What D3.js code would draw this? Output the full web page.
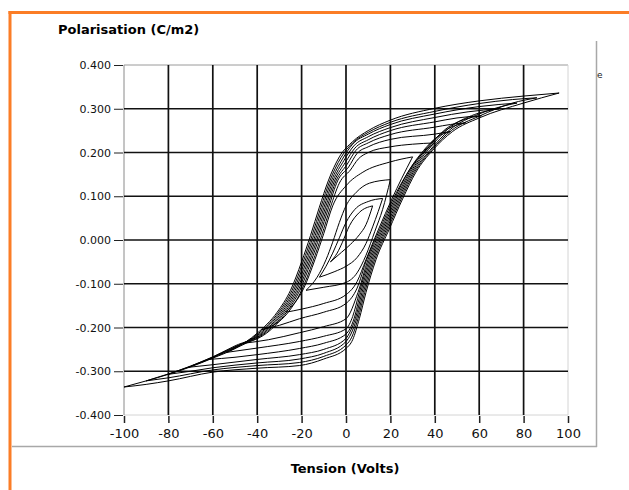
<!DOCTYPE html>
<html>
<head>
<meta charset="utf-8">
<script src="https://cdn.jsdelivr.net/npm/d3@7"></script>
<style>
  body { margin: 0; background: #fff; }
  svg { display: block; font-family: "DejaVu Sans", Verdana, sans-serif; }
</style>
</head>
<body>
<svg id="chart" width="629" height="490"></svg>
<script>

// axis ticks
const xTicks = [-100, -80, -60, -40, -20, 0, 20, 40, 60, 80, 100] ;
const xTickLabels = ["-100", "-80", "-60", "-40", "-20", "0", "20", "40", "60", "80", "100"] ;
const yTicks = [-0.4, -0.3, -0.2, -0.1, 0, 0.1, 0.2, 0.3, 0.4] ;
const yTickLabels = ["-0.400", "-0.300", "-0.200", "-0.100", "0.000", "0.100", "0.200", "0.300", "0.400"] ;

// hysteresis loops, [tension V, polarisation C/m2]
// "up" = descending branch, "lo" = ascending branch (both listed by rising V)
const loopA_up = [[-7,-0.05],[-4,-0.03],[-1.6,-0.005],[1.6,0.033],[6,0.063],[12,0.078]] ;
const loopA_lo = [[-7,-0.05],[-2,-0.028],[2,-0.01],[6,0.012],[9,0.035],[12,0.078]] ;

const loopA2_up = [[-12,-0.085],[-9,-0.06],[-6,-0.03],[-3,0.005],[0,0.04],[4,0.07],[10,0.088],[16.5,0.095]] ;
const loopA2_lo = [[-12,-0.085],[-5,-0.072],[0,-0.06],[5,-0.04],[9,-0.008],[12,0.03],[14.5,0.065],[16.5,0.095]] ;

const loopB_up = [[-18,-0.115],[-13,-0.085],[-9,-0.045],[-6,-0.005],[-3,0.04],[0,0.078],[4.6,0.109],[10.6,0.13],[20,0.138]] ;
const loopB_lo = [[-18,-0.115],[-10,-0.108],[0,-0.097],[5,-0.075],[9,-0.035],[13,0.02],[16.5,0.07],[20,0.138]] ;

const loopC_up = [[-27,-0.165],[-19,-0.11],[-14,-0.045],[-10,0.015],[-6,0.078],[0,0.124],[7.6,0.155],[19.6,0.178],[30,0.19]] ;
const loopC_lo = [[-27,-0.165],[-20,-0.158],[-10,-0.145],[0,-0.125],[5,-0.095],[9,-0.045],[14.7,0.025],[20.7,0.094],[25,0.14],[30,0.19]] ;

const loopD_up = [[-38,-0.205],[-26,-0.165],[-20,-0.115],[-15,-0.05],[-11,0.01],[-7,0.075],[-3,0.13],[2,0.16],[5.5,0.185],[10,0.2],[20,0.213],[30,0.219],[40,0.222]] ;
const loopD_lo = [[-38,-0.205],[-30,-0.195],[-21,-0.18],[-10,-0.165],[0,-0.145],[5,-0.11],[9.3,-0.045],[15.3,0.025],[21.3,0.094],[27.3,0.15],[33,0.19],[40,0.222]] ;

const loopE_up = [[-46,-0.236],[-35.8,-0.213],[-26.8,-0.165],[-20.8,-0.115],[-15.8,-0.05],[-11.8,0.01],[-7.8,0.075],[-3.8,0.135],[1.2,0.167],[5,0.198],[10,0.213],[20,0.23],[40,0.242],[47,0.248]] ;
const loopE_lo = [[-46,-0.236],[-35,-0.228],[-21,-0.212],[-10,-0.198],[0,-0.18],[5.4,-0.12],[9.9,-0.045],[15.9,0.025],[21.9,0.094],[27.9,0.155],[35,0.205],[41,0.235],[47,0.248]] ;

const loopF_up = [[-54,-0.257],[-45,-0.236],[-36.5,-0.213],[-27.5,-0.165],[-21.5,-0.115],[-16.5,-0.05],[-12.5,0.01],[-8.5,0.075],[-4.5,0.135],[0.5,0.173],[4.5,0.205],[10,0.222],[20,0.241],[40,0.258],[47,0.264],[54,0.268]] ;
const loopF_lo = [[-54,-0.257],[-40,-0.247],[-21,-0.232],[-10,-0.22],[0,-0.203],[3,-0.175],[6,-0.12],[10.5,-0.045],[16.5,0.025],[22.5,0.094],[28.5,0.155],[36,0.208],[44,0.248],[54,0.268]] ;

const loopG_up = [[-62,-0.273],[-50,-0.242],[-37.2,-0.213],[-28.2,-0.165],[-22.2,-0.115],[-17.2,-0.05],[-13.2,0.01],[-9.2,0.075],[-5.2,0.135],[-0.2,0.178],[4,0.21],[10,0.229],[20,0.25],[40,0.27],[50,0.279],[61,0.284]] ;
const loopG_lo = [[-62,-0.273],[-50,-0.268],[-40,-0.262],[-21,-0.248],[-10,-0.236],[0,-0.215],[3.6,-0.18],[6.6,-0.12],[11.1,-0.045],[17.1,0.025],[23.1,0.094],[29.1,0.155],[36.6,0.208],[45,0.254],[53,0.275],[61,0.284]] ;

const loopH_up = [[-71,-0.291],[-60,-0.267],[-50,-0.244],[-37.9,-0.213],[-28.9,-0.165],[-22.9,-0.115],[-17.9,-0.05],[-13.9,0.01],[-9.9,0.075],[-5.9,0.135],[-0.9,0.182],[3.5,0.215],[10,0.236],[20,0.257],[40,0.28],[55,0.293],[69,0.3]] ;
const loopH_lo = [[-71,-0.291],[-60,-0.285],[-40,-0.273],[-21,-0.262],[-10,-0.25],[0,-0.225],[1.8,-0.21],[4.2,-0.18],[7.2,-0.12],[11.7,-0.045],[17.7,0.025],[23.7,0.094],[29.7,0.155],[37.2,0.207],[46,0.254],[58,0.287],[69,0.3]] ;

const loopI_up = [[-80,-0.307],[-70,-0.288],[-60,-0.268],[-50,-0.245],[-38.6,-0.213],[-29.6,-0.165],[-23.6,-0.115],[-18.6,-0.05],[-14.6,0.01],[-10.6,0.075],[-6.6,0.135],[-1.6,0.185],[3,0.219],[10,0.242],[20,0.264],[40,0.288],[60,0.305],[77,0.313]] ;
const loopI_lo = [[-80,-0.307],[-70,-0.3],[-60,-0.292],[-40,-0.281],[-21,-0.272],[-10,-0.259],[0,-0.232],[2.2,-0.215],[4.8,-0.18],[7.8,-0.12],[12.3,-0.045],[18.3,0.025],[24.3,0.094],[30.3,0.155],[37.8,0.205],[46.8,0.252],[60,0.288],[70,0.305],[77,0.313]] ;

const loopJ_up = [[-90,-0.322],[-80,-0.306],[-70,-0.289],[-60,-0.269],[-50,-0.246],[-39.3,-0.213],[-30.3,-0.165],[-24.3,-0.115],[-19.3,-0.05],[-15.3,0.01],[-11.3,0.075],[-7.3,0.135],[-2.3,0.188],[3,0.222],[10,0.246],[20,0.269],[40,0.294],[60,0.312],[75,0.321],[86,0.325]] ;
const loopJ_lo = [[-90,-0.322],[-80,-0.315],[-60,-0.297],[-40,-0.287],[-21,-0.28],[-10,-0.266],[0,-0.24],[2.6,-0.222],[5.4,-0.18],[8.4,-0.12],[12.9,-0.045],[18.9,0.025],[24.9,0.094],[30.9,0.155],[38.4,0.205],[47.4,0.25],[60,0.283],[75,0.313],[86,0.325]] ;

const loopK_up = [[-100,-0.336],[-90,-0.322],[-80,-0.307],[-70,-0.29],[-60,-0.27],[-50,-0.248],[-40,-0.213],[-31,-0.165],[-25,-0.115],[-20,-0.05],[-16,0.01],[-12,0.075],[-8,0.135],[-3,0.19],[3,0.225],[10,0.25],[20,0.274],[40,0.301],[60,0.318],[80,0.329],[96,0.336]] ;
const loopK_lo = [[-100,-0.336],[-90,-0.33],[-80,-0.322],[-60,-0.302],[-40,-0.293],[-21,-0.287],[-10,-0.272],[0,-0.248],[3,-0.228],[6,-0.18],[9,-0.12],[13.5,-0.045],[19.5,0.025],[25.5,0.094],[31.5,0.155],[39,0.205],[48,0.248],[60,0.279],[80,0.313],[96,0.336]] ;

const branches = [
	loopA_up, loopA_lo, loopA2_up, loopA2_lo, loopB_up, loopB_lo, loopC_up, loopC_lo,
	loopD_up, loopD_lo, loopE_up, loopE_lo, loopF_up, loopF_lo, loopG_up, loopG_lo,
	loopH_up, loopH_lo, loopI_up, loopI_lo, loopJ_up, loopJ_lo, loopK_up, loopK_lo
] ;


const svg = d3.select("#chart") ;

const plotLeft = 124, plotRight = 568, plotTop = 65, plotBottom = 415 ;
const x = d3.scaleLinear().domain([-100, 100]).range([plotLeft, plotRight]) ;
const y = d3.scaleLinear().domain([-0.4, 0.4]).range([plotBottom, plotTop]) ;

// orange frame
svg.append("line").attr("x1", 8.5).attr("x2", 629).attr("y1", 12.5).attr("y2", 12.5)
	.attr("stroke", "#fb7d26").attr("stroke-width", 3) ;
svg.append("line").attr("x1", 10).attr("x2", 10).attr("y1", 11).attr("y2", 490)
	.attr("stroke", "#fb7d26").attr("stroke-width", 3) ;

// outer grey panel edges
svg.append("line").attr("x1", 596.5).attr("x2", 596.5).attr("y1", 41).attr("y2", 447)
	.attr("stroke", "#a8a8a8").attr("stroke-width", 1.5) ;
svg.append("line").attr("x1", 12).attr("x2", 597).attr("y1", 446.5).attr("y2", 446.5)
	.attr("stroke", "#a8a8a8").attr("stroke-width", 1.5) ;
svg.append("text").attr("x", 597).attr("y", 78)
	.style("font-size", "9px").attr("fill", "#222").text("e") ;

// plot frame
svg.append("line").attr("x1", plotLeft).attr("x2", plotRight).attr("y1", plotTop).attr("y2", plotTop)
	.attr("stroke", "#9a9a9a") ;
svg.append("line").attr("x1", plotRight).attr("x2", plotRight).attr("y1", plotTop).attr("y2", plotBottom)
	.attr("stroke", "#d4d4d4") ;
svg.append("line").attr("x1", plotLeft).attr("x2", plotRight).attr("y1", plotBottom).attr("y2", plotBottom)
	.attr("stroke", "#d4d4d4") ;
svg.append("line").attr("x1", plotLeft).attr("x2", plotLeft).attr("y1", plotTop).attr("y2", plotBottom)
	.attr("stroke", "#8a8a8a") ;

// grid
const grid = svg.append("g").attr("class", "grid") ;
grid.selectAll("line.vx")
	.data(xTicks.filter(d => d > -100 && d < 100))
	.enter().append("line")
		.attr("x1", d => x(d)).attr("x2", d => x(d))
		.attr("y1", plotTop).attr("y2", plotBottom)
		.attr("stroke", "#111").attr("stroke-width", 1.7) ;
grid.selectAll("line.hy")
	.data(yTicks.filter(d => Math.abs(d) < 0.35))
	.enter().append("line")
		.attr("x1", plotLeft).attr("x2", plotRight)
		.attr("y1", d => y(d)).attr("y2", d => y(d))
		.attr("stroke", "#111").attr("stroke-width", 1.7) ;

// axes
const yAxis = svg.append("g")
	.attr("transform", "translate(" + (plotLeft - 1) + ",0)")
	.call(d3.axisLeft(y).tickValues(yTicks)
		.tickFormat((d, i) => yTickLabels[i])
		.tickSize(9).tickPadding(3)) ;
yAxis.select(".domain").remove() ;
yAxis.selectAll("line").attr("stroke", "#222") ;
yAxis.selectAll("text").style("font-size", "11px").style("font-family", "'DejaVu Sans', Verdana, sans-serif").attr("fill", "#111") ;

const xAxis = svg.append("g")
	.attr("transform", "translate(0," + (plotBottom + 1) + ")")
	.call(d3.axisBottom(x).tickValues(xTicks)
		.tickFormat((d, i) => xTickLabels[i])
		.tickSize(7).tickPadding(6)) ;
xAxis.select(".domain").remove() ;
xAxis.selectAll("line").attr("stroke", "#222").attr("stroke-width", 1.5) ;
xAxis.selectAll("text").style("font-size", "13px").style("font-family", "'DejaVu Sans', Verdana, sans-serif").attr("fill", "#111") ;

// titles
svg.append("text").attr("x", 58).attr("y", 34)
	.style("font-size", "13px").style("font-weight", "bold")
	.text("Polarisation (C/m2)") ;
svg.append("text").attr("x", 345).attr("y", 473)
	.attr("text-anchor", "middle")
	.style("font-size", "13px").style("font-weight", "bold")
	.text("Tension (Volts)") ;

// curves
const line = d3.line()
	.x(d => x(d[0]))
	.y(d => y(d[1]))
	.curve(d3.curveMonotoneX) ;

svg.append("g").attr("class", "loops")
	.selectAll("path")
	.data(branches)
	.enter().append("path")
		.attr("d", line)
		.attr("fill", "none")
		.attr("stroke", "#000")
		.attr("stroke-width", 1) ;

</script>
</body>
</html>
